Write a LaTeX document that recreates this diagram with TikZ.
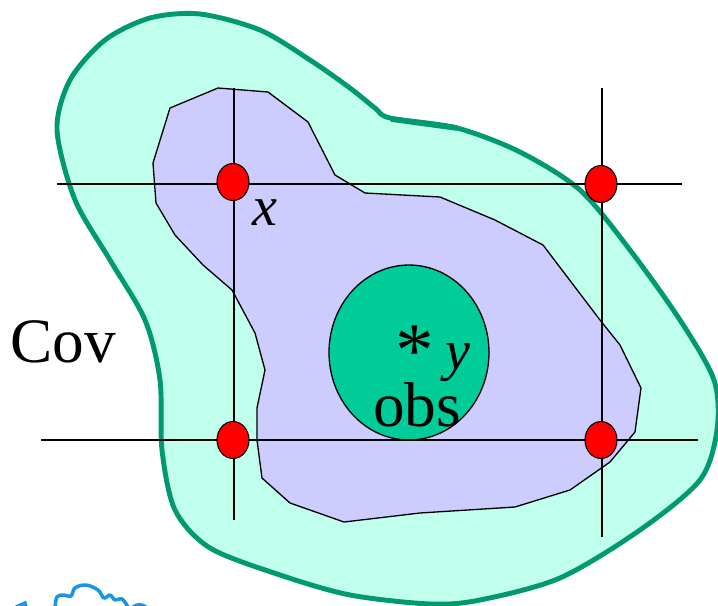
\documentclass[tikz,border=0pt]{standalone}
\usepackage{fontspec}
\usetikzlibrary{shapes.geometric}
\setmainfont{Liberation Serif}
\begin{document}
\begin{tikzpicture}[x=0.02cm,y=-0.02cm,
  outerblob/.style={draw=outerc,fill=outerf,line width=2.8pt,line join=round},
  innerblob/.style={draw=black,fill=innerf,line width=0.75pt,line join=round},
  obsregion/.style={ellipse,draw=black,fill=obsf,line width=0.75pt,minimum width=3.2cm,minimum height=3.5cm,inner sep=0pt},
  gridline/.style={draw=black,line width=0.75pt},
  reddot/.style={ellipse,draw=black,fill=red,line width=0.6pt,minimum width=0.64cm,minimum height=0.74cm,inner sep=0pt},
  lab/.style={inner sep=0pt,text=black,font=\fontsize{36}{36}\selectfont},
  varlab/.style={inner sep=0pt,text=black,font=\fontsize{32}{32}\selectfont\itshape}]
\definecolor{outerc}{HTML}{009970}
\definecolor{outerf}{HTML}{BFFFEB}
\definecolor{innerf}{HTML}{CCCCFF}
\definecolor{obsf}{HTML}{00CC99}
\definecolor{cloudc}{HTML}{1B95E0}
\useasboundingbox (0,0) rectangle (718,606);
\begin{scope}
\clip (0,0) rectangle (718,606);
\draw[outerblob] plot[smooth cycle,tension=0.5] coordinates {
 (390,118) (457,128) (520,152) (580,190) (630,250) (680,320) (714,380) (717,430)
 (700,480) (640,530) (560,578) (480,600) (430,604) (350,595) (280,575) (210,548)
 (175,510) (162,450) (160,380) (145,320) (110,260) (75,200) (57,130) (70,80)
 (105,40) (150,18) (200,14) (260,30) (310,60) (350,88) (375,108)};
\draw[outerc,line width=3.2pt] (391,119) -- (457,128);
\draw[cloudc,line width=2pt,line cap=round,line join=round] plot[smooth,tension=0.6] coordinates {
 (55,607) (57,597) (63,595) (71,596) (75,588) (86,585) (98,590) (104,598) (110,595) (115,600) (122,599) (128,607)};
\draw[cloudc,line width=2pt] (133,607) .. controls (137,604) and (142,604) .. (146,607);
\draw[cloudc,line width=2pt] (16,607) -- (25,603) -- (26,607);
\end{scope}
\draw[innerblob] (218,88) -- (268,92) -- (308,122) -- (335,175) -- (365,193) -- (440,197) -- (495,220) -- (543,245) -- (600,320) -- (620,345) -- (641,388) -- (635,432) -- (610,462) -- (570,490) -- (515,507) -- (420,513) -- (344,522) -- (290,503) -- (262,478) -- (257,440) -- (257,408) -- (265,370) -- (255,333) -- (232,290) -- (203,265) -- (175,235) -- (156,203) -- (153,163) -- (170,108) -- cycle;
\node[obsregion] (obs) at (409,352.5) {};
\coordinate (h1l) at (57,184); \coordinate (h1r) at (682,184);
\coordinate (h2l) at (41,440); \coordinate (h2r) at (698,440);
\coordinate (v1t) at (234,88); \coordinate (v1b) at (234,520);
\coordinate (v2t) at (602,88); \coordinate (v2b) at (602,537);
\draw[gridline] (h1l) -- (h1r);
\draw[gridline] (h2l) -- (h2r);
\draw[gridline] (v1t) -- (v1b);
\draw[gridline] (v2t) -- (v2b);
\node[reddot] (a) at (233,182) {};
\node[reddot] (b) at (601,184) {};
\node[reddot] (c) at (233,440) {};
\node[reddot] (d) at (601,440) {};
\node[lab,anchor=base west] (cov) at (10,362) {Cov};
\node[varlab,anchor=base west] (xl) at (252,225) {x};
\node[lab,anchor=base,font=\fontsize{44}{44}\selectfont] (st) at (415,376) {*};
\node[varlab,anchor=base west] (yl) at (445,369) {y};
\node[lab,anchor=base west] (ob) at (373,426) {obs};
\end{tikzpicture}
\end{document}
